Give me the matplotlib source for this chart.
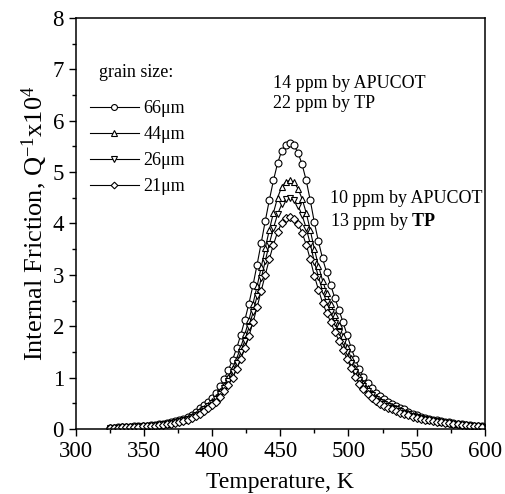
import matplotlib
matplotlib.use("Agg")
import matplotlib.pyplot as plt
from matplotlib.ticker import MultipleLocator

plt.rcParams['font.family'] = ['Liberation Serif', 'DejaVu Serif']
plt.rcParams['mathtext.fontset'] = 'custom'
plt.rcParams['mathtext.rm'] = 'Liberation Serif'
plt.rcParams['mathtext.it'] = 'Liberation Serif:italic'
plt.rcParams['mathtext.bf'] = 'Liberation Serif:bold'

# temperature grid, K
temps = [325, 328, 331, 334, 337, 340, 343, 346, 349, 352, 355, 358, 361, 364, 367,
         370, 373, 376, 379, 382, 385, 388, 391, 394, 397, 400, 403, 406, 409, 412,
         415, 418, 421, 424, 427, 430, 433, 436, 439, 442, 445, 448, 451, 454, 457,
         460, 463, 466, 469, 472, 475, 478, 481, 484, 487, 490, 493, 496, 499, 502,
         505, 508, 511, 514, 517, 520, 523, 526, 529, 532, 535, 538, 541, 544, 547,
         550, 553, 556, 559, 562, 565, 568, 571, 574, 577, 580, 583, 586, 589, 592,
         595, 598]

# internal friction Q^-1 x 10^4 per grain size
q_66 = [0.02, 0.02, 0.03, 0.03, 0.04, 0.04, 0.05, 0.05, 0.06, 0.06, 0.07, 0.08, 0.09, 0.10, 0.11,
        0.13, 0.15, 0.17, 0.20, 0.23, 0.27, 0.33, 0.40, 0.46, 0.53, 0.61, 0.71, 0.83, 0.98, 1.15,
        1.35, 1.57, 1.83, 2.12, 2.44, 2.80, 3.20, 3.62, 4.05, 4.46, 4.84, 5.17, 5.41, 5.53, 5.56,
        5.52, 5.38, 5.15, 4.84, 4.45, 4.02, 3.65, 3.32, 3.05, 2.80, 2.55, 2.32, 2.08, 1.83, 1.58,
        1.36, 1.17, 1.02, 0.90, 0.80, 0.71, 0.64, 0.58, 0.53, 0.49, 0.45, 0.41, 0.38, 0.34, 0.30,
        0.27, 0.24, 0.22, 0.20, 0.18, 0.17, 0.15, 0.14, 0.13, 0.11, 0.10, 0.09, 0.08, 0.07, 0.06,
        0.05, 0.05]
q_44 = [0.02, 0.02, 0.03, 0.03, 0.04, 0.04, 0.04, 0.05, 0.05, 0.06, 0.07, 0.07, 0.08, 0.09, 0.10,
        0.12, 0.14, 0.16, 0.18, 0.21, 0.25, 0.30, 0.36, 0.41, 0.47, 0.54, 0.63, 0.73, 0.86, 1.01,
        1.18, 1.37, 1.59, 1.84, 2.12, 2.44, 2.78, 3.15, 3.52, 3.88, 4.21, 4.50, 4.71, 4.81, 4.84,
        4.80, 4.68, 4.48, 4.21, 3.87, 3.50, 3.18, 2.89, 2.65, 2.44, 2.22, 2.02, 1.81, 1.59, 1.38,
        1.19, 1.03, 0.90, 0.80, 0.71, 0.63, 0.57, 0.52, 0.47, 0.44, 0.40, 0.37, 0.34, 0.31, 0.27,
        0.25, 0.22, 0.20, 0.18, 0.17, 0.15, 0.14, 0.13, 0.12, 0.10, 0.09, 0.08, 0.07, 0.07, 0.06,
        0.05, 0.05]
q_26 = [0.02, 0.02, 0.02, 0.03, 0.03, 0.04, 0.04, 0.05, 0.05, 0.05, 0.06, 0.07, 0.08, 0.09, 0.10,
        0.11, 0.13, 0.15, 0.17, 0.20, 0.23, 0.27, 0.33, 0.38, 0.44, 0.50, 0.58, 0.68, 0.80, 0.94,
        1.10, 1.28, 1.49, 1.72, 1.98, 2.27, 2.59, 2.93, 3.27, 3.61, 3.91, 4.18, 4.37, 4.47, 4.49,
        4.46, 4.35, 4.16, 3.91, 3.60, 3.25, 2.96, 2.69, 2.47, 2.27, 2.07, 1.88, 1.69, 1.49, 1.29,
        1.11, 0.96, 0.84, 0.74, 0.66, 0.59, 0.53, 0.48, 0.44, 0.41, 0.38, 0.35, 0.32, 0.29, 0.26,
        0.24, 0.21, 0.19, 0.18, 0.16, 0.15, 0.14, 0.12, 0.11, 0.10, 0.09, 0.08, 0.07, 0.06, 0.06,
        0.05, 0.04]
q_21 = [0.02, 0.02, 0.02, 0.03, 0.03, 0.03, 0.04, 0.04, 0.05, 0.05, 0.06, 0.06, 0.07, 0.08, 0.09,
        0.10, 0.12, 0.13, 0.15, 0.18, 0.21, 0.25, 0.30, 0.35, 0.40, 0.46, 0.53, 0.62, 0.73, 0.86,
        1.00, 1.17, 1.36, 1.57, 1.81, 2.08, 2.37, 2.69, 3.00, 3.31, 3.59, 3.83, 4.01, 4.10, 4.12,
        4.09, 3.99, 3.82, 3.59, 3.30, 2.98, 2.71, 2.46, 2.26, 2.08, 1.89, 1.72, 1.54, 1.36, 1.18,
        1.02, 0.88, 0.77, 0.68, 0.61, 0.54, 0.49, 0.45, 0.41, 0.38, 0.35, 0.32, 0.30, 0.27, 0.24,
        0.22, 0.20, 0.18, 0.17, 0.15, 0.14, 0.13, 0.12, 0.11, 0.10, 0.09, 0.08, 0.07, 0.06, 0.05,
        0.05, 0.04]

series = [(q_66, 'o', '66μm'), (q_44, '^', '44μm'), (q_26, 'v', '26μm'), (q_21, 'D', '21μm')]

fig = plt.figure(figsize=(5.05, 4.94), dpi=100)
ax = fig.add_axes([0.150, 0.1316, 0.810, 0.832])

for vals, mk, lab in series:
    ms = 4.0 if mk == 'D' else 5.0
    ax.plot(temps, vals, color='black', lw=0.8, marker=mk, ms=ms,
            mfc='white', mec='black', mew=0.8, label=lab)

ax.set_xlim(300, 600)
ax.set_ylim(0, 8)
ax.xaxis.set_major_locator(MultipleLocator(50))
ax.xaxis.set_minor_locator(MultipleLocator(25))
ax.yaxis.set_major_locator(MultipleLocator(1))
ax.yaxis.set_minor_locator(MultipleLocator(0.5))
ax.tick_params(which='both', direction='out', labelsize=16.5, width=1)
ax.tick_params(which='major', length=5)
ax.tick_params(which='minor', length=3)
for s in ax.spines.values():
    s.set_linewidth(1.1)

ax.set_xlabel('Temperature, K', fontsize=17, labelpad=7)
ax.set_ylabel(r'Internal Friction, Q$^{\mathrm{-1}}$x10$^{\mathrm{4}}$', fontsize=19, labelpad=2)

#legend
ax.text(316.8, 6.93, 'grain size:', fontsize=13, va='center', ha='left')
leg = ax.legend(loc='upper left', bbox_to_anchor=(0.036, 0.80), frameon=False,
                fontsize=13, handlelength=2.66, handletextpad=0.28, labelspacing=0.5,
                borderpad=0, borderaxespad=0, markerscale=0.85)

#annotations
ax.text(444.6, 6.73, '14 ppm by APUCOT', fontsize=13, va='center', ha='left')
ax.text(444.6, 6.34, '22 ppm by TP', fontsize=13, va='center', ha='left')
ax.text(486.6, 4.49, '10 ppm by APUCOT', fontsize=13, va='center', ha='left')
ax.text(486.6, 4.03, r'13 ppm by $\mathbf{TP}$', fontsize=13, va='center', ha='left')

fig.savefig('out.png', dpi=100)
